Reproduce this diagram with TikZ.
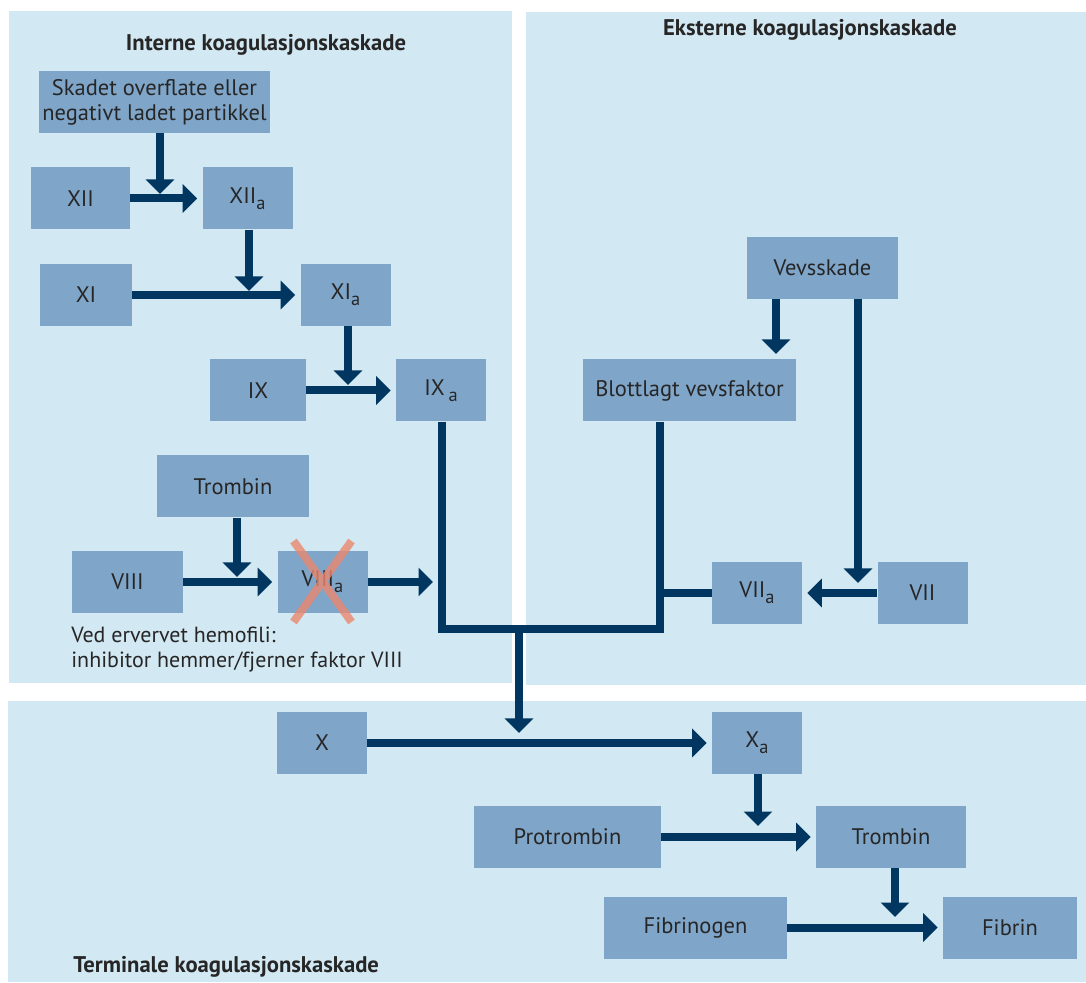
\documentclass[tikz,border=0pt]{standalone}
\usepackage{fontspec}
\setmainfont{PT Sans}
\usetikzlibrary{arrows.meta}
\definecolor{panelblue}{RGB}{210,232,242}
\definecolor{boxblue}{RGB}{127,165,201}
\definecolor{navy}{RGB}{0,54,96}
\definecolor{salmon}{RGB}{234,136,110}
\newcommand{\factsub}[1]{\raisebox{-0.5ex}{\fontsize{10.5}{10.5}\selectfont #1}}

\begin{document}
\begin{tikzpicture}[x=0.2mm,y=-0.2mm,
  box/.style={fill=boxblue,inner sep=0pt,minimum width=18mm,minimum height=12.4mm,align=center,text=black!85,font=\fontsize{12.8}{14.2}\selectfont},
  head/.style={inner sep=0pt,text=black!85,font=\bfseries\fontsize{12.9}{14}\selectfont},
  arr/.style={-{Triangle[length=2.9mm,width=5.6mm]},line width=1.6mm,navy},
  gap/.style={shorten >=1mm},
  link/.style={line width=1.6mm,navy},
  crossline/.style={line width=1.6mm,salmon,opacity=0.8}]

\useasboundingbox (0,0) rectangle (1086,983);
\fill[white] (0,0) rectangle (1086,983);
\fill[panelblue] (9,11) rectangle (512,683);
\fill[panelblue] (526,12) rectangle (1086,685);
\fill[panelblue] (8,701) rectangle (1086,982);

\node[head] (intern) at (266,45) {Interne koagulasjonskaskade};
\node[head] (ekstern) at (810,30) {Eksterne koagulasjonskaskade};
\node[head,anchor=west] (terminal) at (73,967) {Terminale koagulasjonskaskade};

\node[box,minimum width=46.2mm] (skadet) at (154.5,102) {Skadet overflate eller\\negativt ladet partikkel};
\node[box,minimum width=19.8mm] (xii) at (80.5,198.5) {XII};
\node[box] (xiia) at (247.5,198.5) {XII\factsub{a}};
\node[box,minimum width=18.4mm] (xi) at (86,295) {XI};
\node[box] (xia) at (345.5,295) {XI\factsub{a}};
\node[box,minimum width=19.2mm] (ix) at (258,390.5) {IX};
\node[box] (ixa) at (441,390.5) {IX\,\factsub{a}};
\node[box,minimum width=30.4mm] (trombin1) at (233,486.5) {Trombin};
\node[box,minimum width=22.2mm] (viii) at (127.5,582) {VIII};
\node[box] (viiia) at (322.5,582) {VIII\factsub{a}};
\node[inner sep=0pt,anchor=west,align=left,text=black!85,font=\fontsize{12.5}{14.2}\selectfont] (note) at (71,649.5) {Ved ervervet hemofili:\\inhibitor hemmer/fjerner faktor VIII};

\node[box,minimum width=30.2mm] (vevsskade) at (822.5,268) {Vevsskade};
\node[box,minimum width=42.6mm] (blottlagt) at (689.5,390.5) {Blottlagt vevsfaktor};
\node[box] (vii) at (922.5,593) {VII};
\node[box] (viia) at (757,593) {VII\factsub{a}};

\node[box] (x) at (322,743) {X};
\node[box] (xa) at (757,743) {X\factsub{a}};
\node[box,minimum width=37.4mm] (protrombin) at (567.5,837) {Protrombin};
\node[box,minimum width=30mm] (trombin2) at (891,837) {Trombin};
\node[box,minimum width=36.6mm] (fibrinogen) at (695.5,927.5) {Fibrinogen};
\node[box,minimum width=26.8mm] (fibrin) at (1010,927.5) {Fibrin};

\coordinate (tip12) at (160,194);
\coordinate (tip11) at (249,291);
\coordinate (tip9) at (348,385);
\coordinate (tip8) at (237,577);
\coordinate (tip8a) at (433,582);
\coordinate (tipvf) at (776,354);
\coordinate (tip7) at (858,583);
\coordinate (left) at (442,629);
\coordinate (right) at (660,629);
\coordinate (join) at (519,629);
\coordinate (tip10) at (519,733);
\coordinate (tippro) at (758,826);
\coordinate (tipfib) at (895,917);

\draw[arr] (skadet.south -| tip12) -- (tip12);
\draw[arr,gap] (xii.east) -- (xii.east -| xiia.west);
\draw[arr] (xiia.south -| tip11) -- (tip11);
\draw[arr,gap] (xi.east) -- (xi.east -| xia.west);
\draw[arr] (xia.south -| tip9) -- (tip9);
\draw[arr,gap] (ix.east) -- (ix.east -| ixa.west);
\draw[arr] (trombin1.south -| tip8) -- (tip8);
\draw[arr,gap] (viii.east) -- (viii.east -| viiia.west);
\draw[arr] (viiia.east) -- (viiia.east -| tip8a);

\draw[arr] (vevsskade.south -| tipvf) -- (tipvf);
\draw[arr] (vevsskade.south -| tip7) -- (tip7);
\draw[arr,gap] (vii.west) -- (vii.west -| viia.east);
\draw[link] (ixa.south -| left) -- (left) -- (right) -- (blottlagt.south -| right);
\draw[link] (viia.west) -- (viia.west -| right);
\draw[arr] (join) -- (tip10);

\draw[arr,gap] (x.east) -- (x.east -| xa.west);
\draw[arr] (xa.south -| tippro) -- (tippro);
\draw[arr,gap] (protrombin.east) -- (protrombin.east -| trombin2.west);
\draw[arr] (trombin2.south -| tipfib) -- (tipfib);
\draw[arr,gap] (fibrinogen.east) -- (fibrinogen.east -| fibrin.west);

\draw[crossline] ([shift={(-29,-41)}]viiia.center) -- ([shift={(29,40)}]viiia.center)
  ([shift={(29,-41)}]viiia.center) -- ([shift={(-29,40)}]viiia.center);

\end{tikzpicture}
\end{document}
